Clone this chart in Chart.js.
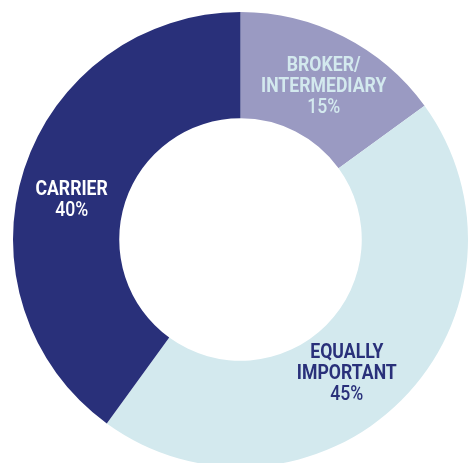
<!DOCTYPE html>
<html>
<head>
<meta charset="utf-8">
<script src="https://cdn.jsdelivr.net/npm/chart.js@4.4.1/dist/chart.umd.min.js"></script>
<style>
  html, body { margin: 0; padding: 0; background: #fff; overflow: hidden; }
  #wrap { position: absolute; left: 0; top: 0; width: 469px; height: 482px; }
</style>
</head>
<body>
<div id="wrap"><canvas id="doughnutChart"></canvas></div>
<script>
var categories = ['BROKER/\nINTERMEDIARY', 'EQUALLY\nIMPORTANT', 'CARRIER'];
var shares = [15, 45, 40];
var sliceColors = ['#9a9ac2', '#d3e9ee', '#29307a'];
var textColors = ['#d3e9ee', '#29307a', '#ffffff'];
// nudge each label a little from the slice centre
var labelShift = [[4, 3], [-17, 11], [-3, 15]];

var sliceLabels = {
  id: 'sliceLabels',
  afterDatasetsDraw: function(chart) {
    var ctx = chart.ctx;
    var meta = chart.getDatasetMeta(0);
    var squeeze = 0.84; // condensed look
    meta.data.forEach(function(arc, i) {
      var p = arc.tooltipPosition();
      var lines = categories[i].split('\n');
      lines.push(shares[i] + '%');
      var lh = 21;
      var x = p.x + labelShift[i][0];
      var y0 = p.y + labelShift[i][1] - (lines.length - 1) * lh / 2;
      ctx.save();
      ctx.translate(x, 0);
      ctx.scale(squeeze, 1);
      ctx.textAlign = 'center';
      ctx.textBaseline = 'middle';
      ctx.fillStyle = textColors[i];
      lines.forEach(function(t, j) {
        var last = j == lines.length - 1;
        ctx.font = (last ? '500 ' : 'bold ') + '21px Roboto, sans-serif';
        ctx.fillText(t, 0, y0 + j * lh);
      });
      ctx.restore();
    });
  }
};

var chart = new Chart(document.getElementById('doughnutChart').getContext('2d'), {
  type: 'doughnut',
  data: {
    labels: categories,
    datasets: [{
      data: shares,
      backgroundColor: sliceColors,
      borderWidth: 0
    }]
  },
  options: {
    responsive: true,
    maintainAspectRatio: false,
    animation: false,
    cutout: '53.3%',
    layout: { padding: { left: 13, right: 1, top: 12, bottom: 15 } },
    plugins: {
      legend: { display: false },
      tooltip: { enabled: false }
    }
  },
  plugins: [sliceLabels]
});
</script>
</body>
</html>
